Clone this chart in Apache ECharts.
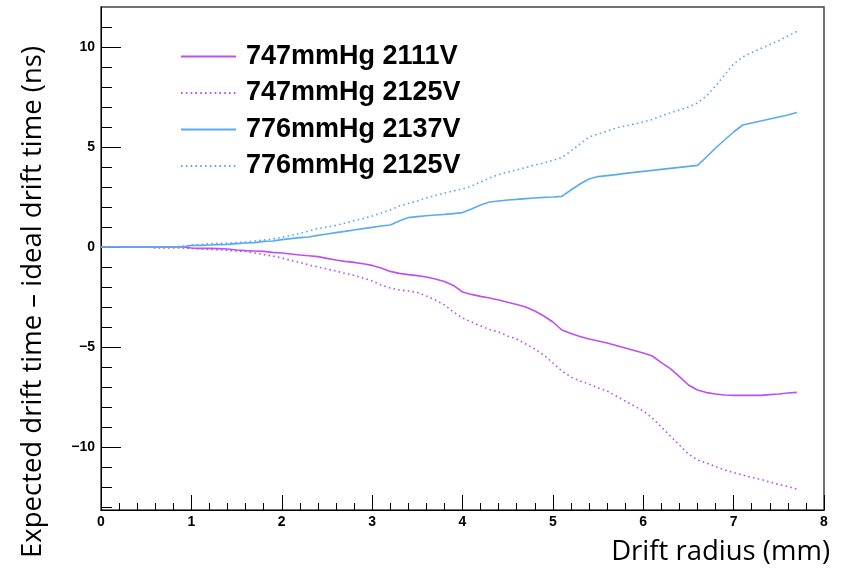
<!DOCTYPE html>
<html><head><meta charset="utf-8">
<script src="https://cdn.jsdelivr.net/npm/echarts@6/dist/echarts.min.js"></script>
<style>html,body{margin:0;padding:0;background:#fff}#c{width:845px;height:574px}</style>
</head><body><div id="c"></div>
<script>
const radius = [0.0,0.1,0.2,0.3,0.4,0.5,0.6,0.7,0.8,0.9,
  1.0,1.1,1.2,1.3,1.4,1.5,1.6,1.7,1.8,1.9,
  2.0,2.1,2.2,2.3,2.4,2.5,2.6,2.7,2.8,2.9,
  3.0,3.1,3.2,3.3,3.4,3.5,3.6,3.7,3.8,3.9,
  4.0,4.1,4.2,4.3,4.4,4.5,4.6,4.7,4.8,4.9,
  5.0,5.1,5.2,5.3,5.4,5.5,5.6,5.7,5.8,5.9,
  6.0,6.1,6.2,6.3,6.4,6.5,6.6,6.7,6.8,6.9,
  7.0,7.1,7.2,7.3,7.4,7.5,7.6,7.7];
const p747_2111 = [0,0,0,0,0,0,0,0,0,0,
  -0.05,-0.07,-0.07,-0.08,-0.1,-0.15,-0.18,-0.2,-0.22,-0.27,
  -0.3,-0.35,-0.4,-0.44,-0.48,-0.57,-0.65,-0.72,-0.77,-0.84,
  -0.92,-1.05,-1.22,-1.32,-1.38,-1.43,-1.5,-1.6,-1.72,-1.92,
  -2.25,-2.37,-2.47,-2.55,-2.65,-2.76,-2.88,-3.0,-3.2,-3.45,
  -3.75,-4.15,-4.33,-4.47,-4.6,-4.7,-4.8,-4.92,-5.05,-5.18,
  -5.3,-5.45,-5.78,-6.08,-6.48,-6.9,-7.15,-7.28,-7.35,-7.4,
  -7.42,-7.42,-7.42,-7.42,-7.38,-7.35,-7.3,-7.27];
const p747_2125 = [0,0,0,0,0,0,-0.05,-0.05,-0.05,-0.05,
  -0.07,-0.1,-0.12,-0.14,-0.17,-0.2,-0.22,-0.3,-0.38,-0.45,
  -0.55,-0.67,-0.77,-0.9,-1.0,-1.1,-1.2,-1.32,-1.42,-1.55,
  -1.7,-1.9,-2.05,-2.15,-2.2,-2.27,-2.45,-2.65,-2.9,-3.25,
  -3.55,-3.75,-3.95,-4.12,-4.25,-4.45,-4.6,-4.85,-5.1,-5.4,
  -5.8,-6.2,-6.5,-6.7,-6.85,-7.05,-7.2,-7.45,-7.7,-7.95,
  -8.2,-8.55,-9.0,-9.45,-9.9,-10.35,-10.65,-10.8,-10.98,-11.15,
  -11.28,-11.4,-11.52,-11.62,-11.75,-11.87,-11.98,-12.1];
const p776_2137 = [0,0,0,0,0,0,0,0,0,0,
  0.08,0.08,0.1,0.12,0.13,0.17,0.2,0.22,0.28,0.3,
  0.37,0.42,0.47,0.5,0.58,0.65,0.72,0.78,0.85,0.92,
  0.98,1.05,1.1,1.3,1.47,1.52,1.56,1.6,1.63,1.67,
  1.72,1.9,2.1,2.25,2.3,2.35,2.38,2.42,2.45,2.48,
  2.5,2.53,2.85,3.15,3.4,3.52,3.57,3.62,3.68,3.73,
  3.78,3.83,3.88,3.93,3.98,4.03,4.08,4.5,4.95,5.35,
  5.75,6.1,6.2,6.3,6.4,6.5,6.6,6.72];
const p776_2125 = [0,0,0,0,0,0,0,0,0,0.05,
  0.08,0.12,0.17,0.18,0.2,0.22,0.25,0.3,0.35,0.4,
  0.48,0.58,0.68,0.8,0.92,1.0,1.08,1.2,1.32,1.42,
  1.55,1.7,1.85,2.05,2.18,2.3,2.45,2.58,2.7,2.8,
  2.9,3.05,3.25,3.45,3.62,3.75,3.85,3.98,4.1,4.2,
  4.33,4.48,4.8,5.15,5.5,5.65,5.8,5.95,6.05,6.15,
  6.25,6.38,6.55,6.7,6.85,7.0,7.2,7.55,8.05,8.6,
  9.15,9.5,9.72,9.92,10.12,10.32,10.55,10.78];
const seriesNames = ['747mmHg 2111V','747mmHg 2125V','776mmHg 2137V','776mmHg 2125V'];
const yMajorTicks = [-10,-5,0,5,10];
const yMinorTicks = [-13,-12,-11,-10,-9,-8,-7,-6,-5,-4,-3,-2,-1,0,1,2,3,4,5,6,7,8,9,10,11];
const xTitle = 'Drift radius (mm)';
const yTitle = 'Expected drift time \u2013 ideal drift time (ns)';

const PURPLE = '#bd50f2', BLUE = '#5aabf0';
const pair = v => radius.map((r, i) => [r, v[i]]);
const minus = v => String(v).replace('-', '\u2212');
const tickFont = {fontFamily: 'Liberation Sans', fontWeight: 'bold', fontSize: 14, color: '#000'};

const chart = echarts.init(document.getElementById('c'), null, {renderer: 'canvas'});
const yMin = -13.15, yMax = 12;
chart.setOption({
  animation: false,
  backgroundColor: '#fff',
  grid: {left: 101, right: 21, top: 7, bottom: 64, show: true, borderColor: '#444', borderWidth: 1.5, backgroundColor: 'transparent'},
  xAxis: [{
    type: 'value', min: 0, max: 8, interval: 1,
    axisLine: {onZero: false, lineStyle: {color: '#000', width: 1}},
    axisTick: {inside: true, length: 15, lineStyle: {color: '#000'}},
    minorTick: {show: true, splitNumber: 5, length: 7, lineStyle: {color: '#000'}},
    splitLine: {show: false},
    axisLabel: Object.assign({margin: 5}, tickFont)
  }],
  yAxis: [{
    type: 'value', min: yMin, max: yMax,
    axisLine: {show: true, onZero: false, lineStyle: {color: '#000', width: 1}},
    axisTick: {inside: true, length: 20, customValues: yMajorTicks, lineStyle: {color: '#000'}},
    splitLine: {show: false},
    axisLabel: Object.assign({margin: 6, customValues: yMajorTicks, formatter: minus}, tickFont)
  }, {
    type: 'value', min: yMin, max: yMax, position: 'left',
    axisLine: {show: false, onZero: false},
    axisTick: {inside: true, length: 11, customValues: yMinorTicks, lineStyle: {color: '#000'}},
    splitLine: {show: false},
    axisLabel: {show: false}
  }],
  legend: {
    orient: 'vertical', left: 180, top: 39, padding: 0,
    itemWidth: 55, itemHeight: 14, itemGap: 1.5,
    itemStyle: {opacity: 0},
    data: seriesNames,
    textStyle: {fontFamily: 'Liberation Sans', fontWeight: 'bold', fontSize: 27, color: '#000', lineHeight: 35, padding: [0, 0, 0, 5]}
  },
  series: [
    {name: seriesNames[0], type: 'line', symbol: 'none', data: pair(p747_2111), lineStyle: {color: PURPLE, width: 1.6, type: 'solid'}, itemStyle: {color: PURPLE}},
    {name: seriesNames[1], type: 'line', symbol: 'none', data: pair(p747_2125), lineStyle: {color: PURPLE, width: 1.6, type: [1.6, 3.2]}, itemStyle: {color: PURPLE}},
    {name: seriesNames[2], type: 'line', symbol: 'none', data: pair(p776_2137), lineStyle: {color: BLUE, width: 1.6, type: 'solid'}, itemStyle: {color: BLUE}},
    {name: seriesNames[3], type: 'line', symbol: 'none', data: pair(p776_2125), lineStyle: {color: BLUE, width: 1.6, type: [1.6, 3.2]}, itemStyle: {color: BLUE}}
  ],
  graphic: [
    {type: 'text', right: 15, top: 538, style: {text: xTitle, fontFamily: 'Open Sans', fontSize: 27.5, fill: '#000'}},
    {type: 'text', x: 33, y: 302, rotation: Math.PI / 2, style: {text: yTitle, fontFamily: 'Open Sans', fontSize: 27.5, fill: '#000', align: 'center', verticalAlign: 'middle'}}
  ]
});
</script></body></html>
